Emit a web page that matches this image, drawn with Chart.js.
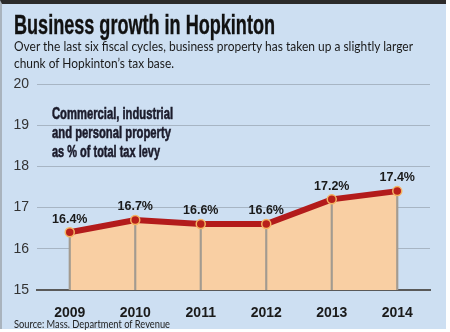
<!DOCTYPE html>
<html>
<head>
<meta charset="utf-8">
<script src="https://cdn.jsdelivr.net/npm/chart.js@4/dist/chart.umd.min.js"></script>
<style>
  body { margin: 0; background: #fff; }
  #wrap { position: relative; width: 450px; height: 332px; overflow: hidden; }
  #panel {
    position: absolute; left: 0; top: 0; width: 444px; height: 325px;
    background: #cddff2; border-top: 4px solid #2b2b2b; border-left: 2px solid #a9b3bd;
  }
  .fit { position: absolute; white-space: nowrap; transform-origin: 0 0; }
  #title { left: 14px; top: 9px; font-family: "Liberation Sans", sans-serif; font-size: 28px; font-weight: bold; color: #111; -webkit-text-stroke: 0.4px #111; }
  .sub { left: 14px; font-family: "Lato", sans-serif; font-size: 13.5px; color: #1a1a1a; }
  .note { left: 52px; font-family: "Liberation Sans", sans-serif; font-size: 17px; font-weight: bold; color: #1b1b2b; -webkit-text-stroke: 0.6px #1b1b2b; }
  #src { left: 14px; top: 318px; font-family: "Lato", sans-serif; font-size: 10.5px; color: #222; }
  canvas { position: absolute; left: 0; top: 0; }
</style>
</head>
<body>
<div id="wrap">
  <div id="panel"></div>
  <canvas id="chart" width="450" height="332"></canvas>
  <div id="title" class="fit" data-w="261">Business growth in Hopkinton</div>
  <div class="fit sub" style="top:38px" data-w="399">Over the last six fiscal cycles, business property has taken up a slightly larger</div>
  <div class="fit sub" style="top:55px" data-w="160">chunk of Hopkinton’s tax base.</div>
  <div class="fit note" style="top:104px" data-w="121">Commercial, industrial</div>
  <div class="fit note" style="top:123px" data-w="119">and personal property</div>
  <div class="fit note" style="top:142px" data-w="108">as % of total tax levy</div>
  <div id="src" class="fit" data-w="156">Source: Mass. Department of Revenue</div>
</div>
<script>
const years = ['2009', '2010', '2011', '2012', '2013', '2014'];
const shares = [16.4, 16.7, 16.6, 16.6, 17.2, 17.4];
const yTicks = [15, 16, 17, 18, 19, 20];

// squeeze the text blocks to the widths
document.querySelectorAll('.fit').forEach(el => {
    const w = el.getBoundingClientRect().width;
    el.style.transform = 'scaleX(' + (Number(el.dataset.w) / w) + ')';
});

const tickFont = '"Liberation Sans", sans-serif';

// draws the "16.4%" labels above each point
const valueLabels = {
    id: 'valueLabels',
    afterDatasetsDraw(chart) {
        const meta = chart.getDatasetMeta(1);
        const ctx = chart.ctx;
        ctx.save();
        ctx.font = 'bold 12.5px ' + tickFont;
        ctx.fillStyle = '#1a1a1a';
        ctx.textAlign = 'center';
        ctx.textBaseline = 'bottom';
        meta.data.forEach((pt, i) => {
            ctx.fillText(shares[i].toFixed(1) + '%', pt.x, pt.y - 7);
        });
        ctx.restore();
    }
};

new Chart(document.getElementById('chart'), {
    data: {
        labels: years,
        datasets: [
            {
                type: 'bar',
                data: shares,
                backgroundColor: '#a39b90',
                barThickness: 1.5,
                order: 2
            },
            {
                type: 'line',
                data: shares,
                borderColor: '#b31b1b',
                borderWidth: 6,
                tension: 0,
                fill: 'start',
                backgroundColor: '#f9cfa3',
                pointRadius: 4.5,
                pointBackgroundColor: '#b8201a',
                pointBorderColor: '#f4b562',
                pointBorderWidth: 1.5,
                order: 1
            }
        ]
    },
    options: {
        responsive: false,
        animation: false,
        events: [],
        layout: { padding: { top: 84, right: 20, left: 0, bottom: 0 } },
        plugins: {
            legend: { display: false },
            tooltip: { enabled: false },
            filler: { drawTime: 'beforeDatasetsDraw' }
        },
        scales: {
            x: {
                offset: true,
                grid: { display: false },
                border: { display: true, color: '#595959', width: 2 },
                ticks: { color: '#1a1a1a', padding: 7, font: { family: tickFont, size: 14, weight: 'bold' } },
                afterFit(scale) { scale.height = 42; }
            },
            y: {
                min: 15,
                max: 20,
                afterBuildTicks(scale) { scale.ticks = yTicks.map(v => ({ value: v })); },
                grid: { color: '#a7b5c4', lineWidth: 1, drawTicks: false },
                border: { display: false },
                ticks: { color: '#333', padding: 8, font: { family: tickFont, size: 14 } },
                afterFit(scale) { scale.width = 37; }
            }
        }
    },
    plugins: [valueLabels]
});
</script>
</body>
</html>
